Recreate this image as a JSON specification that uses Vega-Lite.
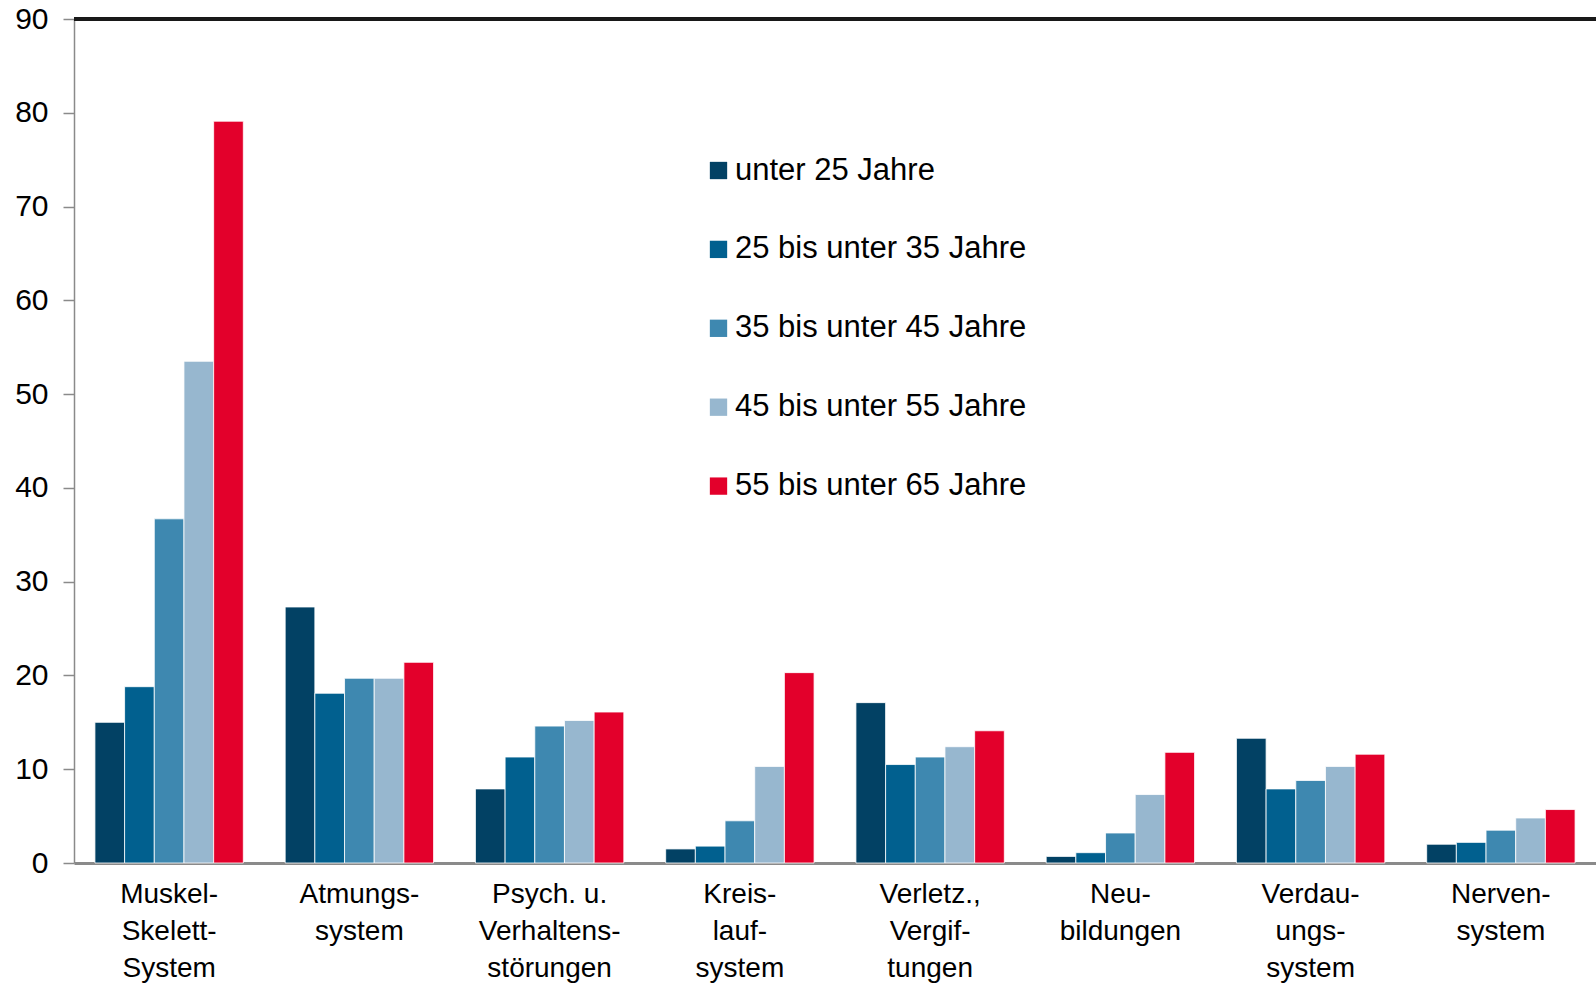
{
  "$schema": "https://vega.github.io/schema/vega-lite/v6.json",
  "width": 1522,
  "height": 844,
  "autosize": {"type": "none"},
  "padding": {"left": 74, "top": 19, "right": 0, "bottom": 123},
  "background": "white",
  "config": {"view": {"stroke": null}, "font": "Liberation Sans"},
  "data": {"values": [
    {"cat": "Muskel-|Skelett-|System", "age": "unter 25 Jahre", "v": 15.0},
    {"cat": "Muskel-|Skelett-|System", "age": "25 bis unter 35 Jahre", "v": 18.8},
    {"cat": "Muskel-|Skelett-|System", "age": "35 bis unter 45 Jahre", "v": 36.7},
    {"cat": "Muskel-|Skelett-|System", "age": "45 bis unter 55 Jahre", "v": 53.5},
    {"cat": "Muskel-|Skelett-|System", "age": "55 bis unter 65 Jahre", "v": 79.1},
    {"cat": "Atmungs-|system", "age": "unter 25 Jahre", "v": 27.3},
    {"cat": "Atmungs-|system", "age": "25 bis unter 35 Jahre", "v": 18.1},
    {"cat": "Atmungs-|system", "age": "35 bis unter 45 Jahre", "v": 19.7},
    {"cat": "Atmungs-|system", "age": "45 bis unter 55 Jahre", "v": 19.7},
    {"cat": "Atmungs-|system", "age": "55 bis unter 65 Jahre", "v": 21.4},
    {"cat": "Psych. u.|Verhaltens-|störungen", "age": "unter 25 Jahre", "v": 7.9},
    {"cat": "Psych. u.|Verhaltens-|störungen", "age": "25 bis unter 35 Jahre", "v": 11.3},
    {"cat": "Psych. u.|Verhaltens-|störungen", "age": "35 bis unter 45 Jahre", "v": 14.6},
    {"cat": "Psych. u.|Verhaltens-|störungen", "age": "45 bis unter 55 Jahre", "v": 15.2},
    {"cat": "Psych. u.|Verhaltens-|störungen", "age": "55 bis unter 65 Jahre", "v": 16.1},
    {"cat": "Kreis-|lauf-|system", "age": "unter 25 Jahre", "v": 1.5},
    {"cat": "Kreis-|lauf-|system", "age": "25 bis unter 35 Jahre", "v": 1.8},
    {"cat": "Kreis-|lauf-|system", "age": "35 bis unter 45 Jahre", "v": 4.5},
    {"cat": "Kreis-|lauf-|system", "age": "45 bis unter 55 Jahre", "v": 10.3},
    {"cat": "Kreis-|lauf-|system", "age": "55 bis unter 65 Jahre", "v": 20.3},
    {"cat": "Verletz.,|Vergif-|tungen", "age": "unter 25 Jahre", "v": 17.1},
    {"cat": "Verletz.,|Vergif-|tungen", "age": "25 bis unter 35 Jahre", "v": 10.5},
    {"cat": "Verletz.,|Vergif-|tungen", "age": "35 bis unter 45 Jahre", "v": 11.3},
    {"cat": "Verletz.,|Vergif-|tungen", "age": "45 bis unter 55 Jahre", "v": 12.4},
    {"cat": "Verletz.,|Vergif-|tungen", "age": "55 bis unter 65 Jahre", "v": 14.1},
    {"cat": "Neu-|bildungen", "age": "unter 25 Jahre", "v": 0.7},
    {"cat": "Neu-|bildungen", "age": "25 bis unter 35 Jahre", "v": 1.1},
    {"cat": "Neu-|bildungen", "age": "35 bis unter 45 Jahre", "v": 3.2},
    {"cat": "Neu-|bildungen", "age": "45 bis unter 55 Jahre", "v": 7.3},
    {"cat": "Neu-|bildungen", "age": "55 bis unter 65 Jahre", "v": 11.8},
    {"cat": "Verdau-|ungs-|system", "age": "unter 25 Jahre", "v": 13.3},
    {"cat": "Verdau-|ungs-|system", "age": "25 bis unter 35 Jahre", "v": 7.9},
    {"cat": "Verdau-|ungs-|system", "age": "35 bis unter 45 Jahre", "v": 8.8},
    {"cat": "Verdau-|ungs-|system", "age": "45 bis unter 55 Jahre", "v": 10.3},
    {"cat": "Verdau-|ungs-|system", "age": "55 bis unter 65 Jahre", "v": 11.6},
    {"cat": "Nerven-|system", "age": "unter 25 Jahre", "v": 2.0},
    {"cat": "Nerven-|system", "age": "25 bis unter 35 Jahre", "v": 2.2},
    {"cat": "Nerven-|system", "age": "35 bis unter 45 Jahre", "v": 3.5},
    {"cat": "Nerven-|system", "age": "45 bis unter 55 Jahre", "v": 4.8},
    {"cat": "Nerven-|system", "age": "55 bis unter 65 Jahre", "v": 5.7}
  ]},
  "layer": [
    {
      "mark": {"type": "bar", "stroke": "white", "strokeWidth": 0.8},
      "encoding": {
        "x": {
          "field": "cat", "type": "nominal", "sort": null,
          "scale": {"paddingInner": 0.22, "paddingOuter": 0.11},
          "axis": {
            "title": null, "labelAngle": 0, "labelExpr": "split(datum.value, '|')",
            "labelFont": "Liberation Sans", "labelFontSize": 28, "labelLineHeight": 37,
            "labelColor": "black", "labelPadding": 17, "labelBaseline": "top",
            "ticks": false, "domainColor": "#8a8a8a", "domainWidth": 3
          }
        },
        "xOffset": {
          "field": "age", "type": "nominal",
          "sort": ["unter 25 Jahre", "25 bis unter 35 Jahre", "35 bis unter 45 Jahre", "45 bis unter 55 Jahre", "55 bis unter 65 Jahre"],
          "scale": {"paddingInner": 0, "paddingOuter": 0}
        },
        "y": {
          "field": "v", "type": "quantitative",
          "scale": {"domain": [0, 90], "nice": false},
          "axis": {
            "title": null, "values": [0, 10, 20, 30, 40, 50, 60, 70, 80, 90], "grid": false,
            "labelFont": "Liberation Sans", "labelFontSize": 30, "labelColor": "black",
            "labelPadding": 15, "tickSize": 11, "tickColor": "#8a8a8a", "tickWidth": 1.5,
            "domainColor": "#8a8a8a", "domainWidth": 1.5
          }
        },
        "color": {
          "field": "age", "type": "nominal",
          "scale": {
            "domain": ["unter 25 Jahre", "25 bis unter 35 Jahre", "35 bis unter 45 Jahre", "45 bis unter 55 Jahre", "55 bis unter 65 Jahre"],
            "range": ["#024164", "#01608f", "#3e88b0", "#97b7cf", "#e3002b"]
          },
          "legend": {
            "title": null, "orient": "none", "legendX": 629, "legendY": 136,
            "symbolType": "square", "symbolSize": 300, "symbolStrokeWidth": 0,
            "labelFontSize": 31, "labelColor": "black", "labelOffset": 1,
            "rowPadding": 46.9, "labelLimit": 500
          }
        }
      }
    },
    {
      "mark": {"type": "rule", "color": "#1a1a1a", "strokeWidth": 2.5},
      "encoding": {"y": {"datum": 90}}
    }
  ]
}
